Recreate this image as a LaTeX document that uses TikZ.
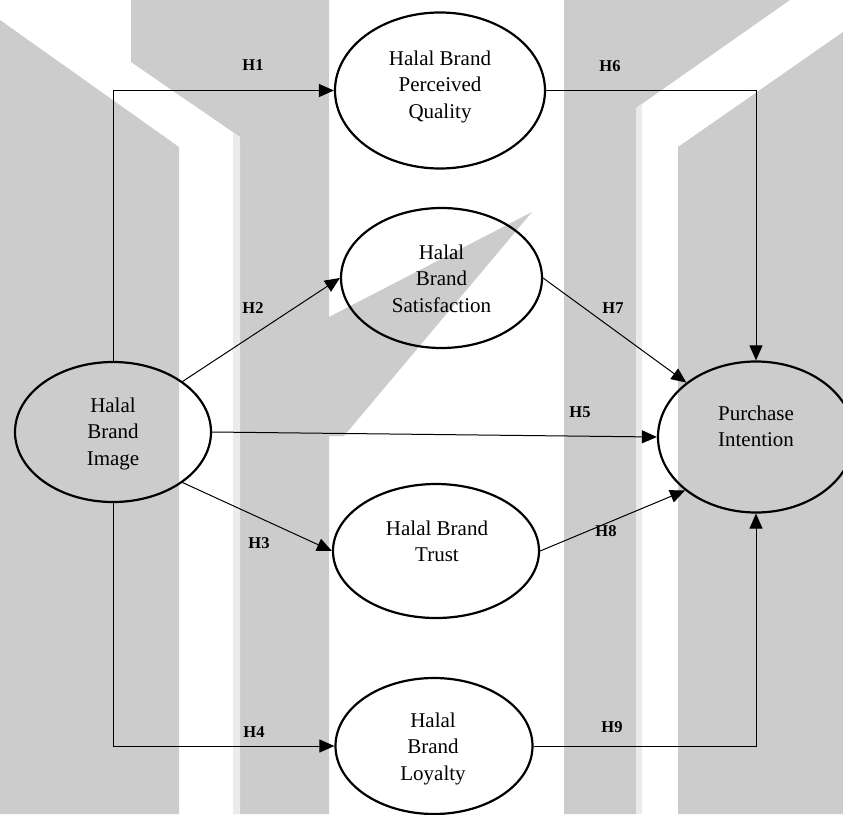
\documentclass[tikz,border=0pt]{standalone}
\usepackage{fontspec}
\setmainfont{Liberation Serif}
\usetikzlibrary{arrows.meta,shapes.geometric}

\definecolor{wmgray}{HTML}{CCCCCC}
\definecolor{wmlight}{HTML}{EBEBEB}

\begin{document}
\begin{tikzpicture}[x=1pt,y=-1pt,
  construct/.style={ellipse, draw, line width=2.2pt, inner sep=0pt},
  caption/.style={align=center, anchor=north, inner sep=0pt,
    font=\fontsize{21}{26.5}\selectfont},
  hyp/.style={inner sep=0pt, font=\fontsize{16.5}{18}\selectfont\bfseries},
  link/.style={line width=1pt, -{Triangle[length=15pt,width=13pt]}}]

\path[use as bounding box] (0,0) rectangle (843,814);
\clip (0,0) rectangle (843,814);

% background emblem in light grey
\fill[wmgray] (0,20) -- (179,147) -- (179,814) -- (0,814) -- cycle;
\fill[wmgray] (131,0) -- (329,0) -- (329,814) -- (240,814) -- (240,137) -- (131,62) -- cycle;
\fill[wmlight] (233,133) -- (240,137) -- (240,814) -- (233,814) -- cycle;
\fill[wmgray] (329,317) -- (532,212) -- (344,436) -- (329,436) -- cycle;
\fill[wmgray] (564,0) -- (790,0) -- (636,108) -- (636,814) -- (564,814) -- cycle;
\fill[wmlight] (636,108) -- (642,104) -- (642,814) -- (636,814) -- cycle;
\fill[wmgray] (678,147) -- (843,32) -- (843,814) -- (678,814) -- cycle;

% constructs
\node[construct, minimum width=196pt, minimum height=140pt] (img) at (113,432) {};
\node[construct, minimum width=210pt, minimum height=156pt] (pq) at (440,90.5) {};
\node[construct, minimum width=201pt, minimum height=140pt] (sat) at (441.5,278) {};
\node[construct, minimum width=206pt, minimum height=134pt] (trust) at (436,551) {};
\node[construct, minimum width=197pt, minimum height=136pt] (loy) at (434,746) {};
\node[construct, minimum width=196pt, minimum height=151pt] (pi) at (756,437) {};

\node[caption] (imgtxt) at (113,397.4) {Halal\\Brand\\Image};
\node[caption] (pqtxt) at (440,50.7) {Halal Brand\\Perceived\\Quality};
\node[caption] (sattxt) at (441.5,244.7) {Halal\\Brand\\Satisfaction};
\node[caption] (trusttxt) at (437,520.7) {Halal Brand\\Trust};
\node[caption] (loytxt) at (433,712.7) {Halal\\Brand\\Loyalty};
\node[caption] (pitxt) at (756,405.7) {Purchase\\Intention};

% hypothesised paths
\draw[link] (img.north) |- (pq.west);
\draw[link] (img.36) -- (sat.west);
\draw[link] (img.-36) -- (trust.west);
\draw[link] (img.south) |- (loy.west);
\draw[link] (img.east) -- (pi.west);
\draw[link] (pq.east) -| (pi.north);
\draw[link] (sat.east) -- (pi.142);
\draw[link] (trust.east) -- (pi.217);
\draw[link] (loy.east) -| (pi.south);

% hypothesis labels
\node[hyp] (h1) at (253,65) {H1};
\node[hyp] (h2) at (253,308) {H2};
\node[hyp] (h3) at (259,543) {H3};
\node[hyp] (h4) at (254,732) {H4};
\node[hyp] (h5) at (580,412) {H5};
\node[hyp] (h6) at (610,66.5) {H6};
\node[hyp] (h7) at (613,308) {H7};
\node[hyp] (h8) at (606,531) {H8};
\node[hyp] (h9) at (612,727) {H9};
\end{tikzpicture}
\end{document}
